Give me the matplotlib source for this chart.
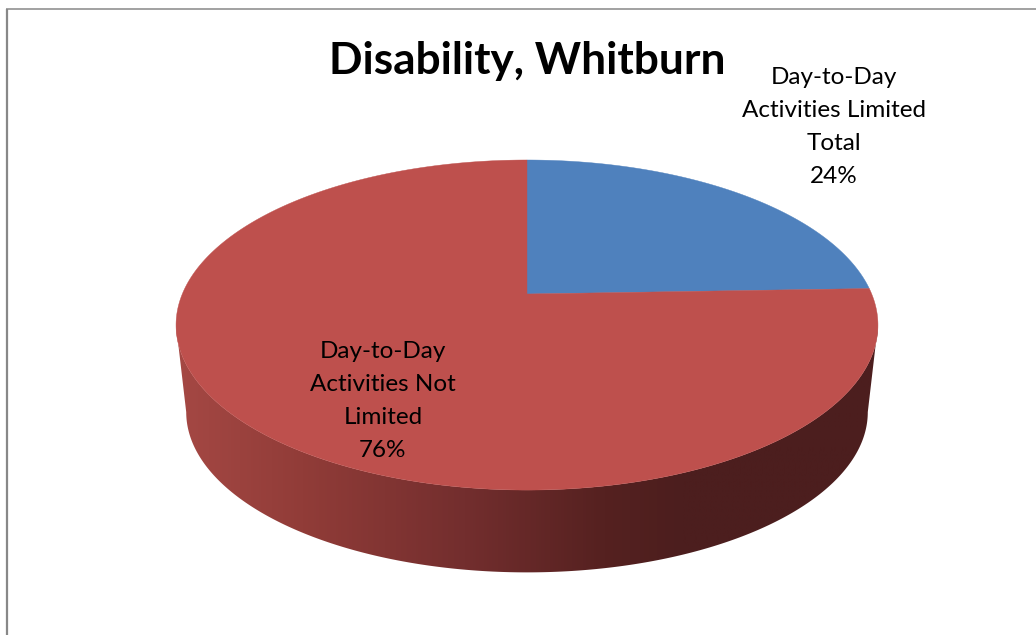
import numpy as np
import matplotlib
matplotlib.use('Agg')
import matplotlib.pyplot as plt
from matplotlib.colors import LinearSegmentedColormap
from matplotlib.patches import Polygon

title = 'Disability, Whitburn'
names = ['Day-to-Day\nActivities Limited\nTotal', 'Day-to-Day\nActivities Not\nLimited']
shares = [24.45, 75.55]
colors = ['#4f81bd', '#be504d']

# the tilted disc, in pixels
cx, cy = 527, 294
ax_x, ax_y, tilt = 344.7, 159.2, 0.188
wall_scale, wall_drop = 0.971, 88

wall_stops = [(0.0, '#a54844'), (0.18, '#913c38'), (0.41, '#732e2e'),
              (0.61, '#552120'), (0.72, '#4c1e1e'), (1.0, '#4c1e1e')]


def project(angle, scale=1.0, drop=0):
    # angle is clockwise from 12 o'clock, on the disc
    u = np.sin(angle)
    v = np.cos(angle)
    w = 1 + tilt * v
    return cx + scale * ax_x * u / w, cy - scale * ax_y * v / w + drop


def rim(a0, a1, scale=1.0, drop=0):
    a = np.linspace(a0, a1, 400)
    x, y = project(a, scale, drop)
    return np.column_stack([x, y])


fig = plt.figure(figsize=(10.36, 6.35), dpi=100)
ax = fig.add_axes([0, 0, 1, 1])
ax.set_xlim(0, 1036)
ax.set_ylim(635, 0)
ax.axis('off')

# chart frame, only left and top are in the crop
ax.plot([6.5, 6.5], [635, 9], color='#888888', lw=1.6, solid_capstyle='butt')
ax.plot([6, 1036], [9.3, 9.3], color='#888888', lw=1.1, solid_capstyle='butt')

# side wall
edge = np.arcsin(tilt)
lo, hi = np.pi / 2 + edge, 3 * np.pi / 2 - edge
wall = np.vstack([rim(lo, hi), rim(hi, lo, wall_scale, wall_drop)])
wall_patch = Polygon(wall, closed=True, fc='none', ec='none')
ax.add_patch(wall_patch)
cmap = LinearSegmentedColormap.from_list('wall', wall_stops)
im = ax.imshow(np.linspace(0, 1, 512)[None, :], cmap=cmap, aspect='auto',
               extent=[176, 880, 600, 300], zorder=1)
im.set_clip_path(wall_patch)
ax.set_xlim(0, 1036)
ax.set_ylim(635, 0)

# top of the pie, from the shares
start = 0.0
for share, color in zip(shares, colors):
    end = start + 2 * np.pi * share / sum(shares)
    pts = np.vstack([[cx, cy], rim(start, end)])
    ax.add_patch(Polygon(pts, closed=True, fc=color, ec=color, lw=0.3, zorder=2))
    start = end

font = 'Lato'
ax.text(527, 61, title, ha='center', va='center', fontsize=31.8, fontweight='bold',
        family=font, color='black', zorder=3)

label_pos = [(834, 127), (383, 401)]
for name, share, (x, y) in zip(names, shares, label_pos):
    ax.text(x, y, '%s\n%.0f%%' % (name, share), ha='center', va='center', fontsize=17.5,
            family=font, color='black', linespacing=1.7, zorder=3)

fig.savefig('out.png', dpi=100)
